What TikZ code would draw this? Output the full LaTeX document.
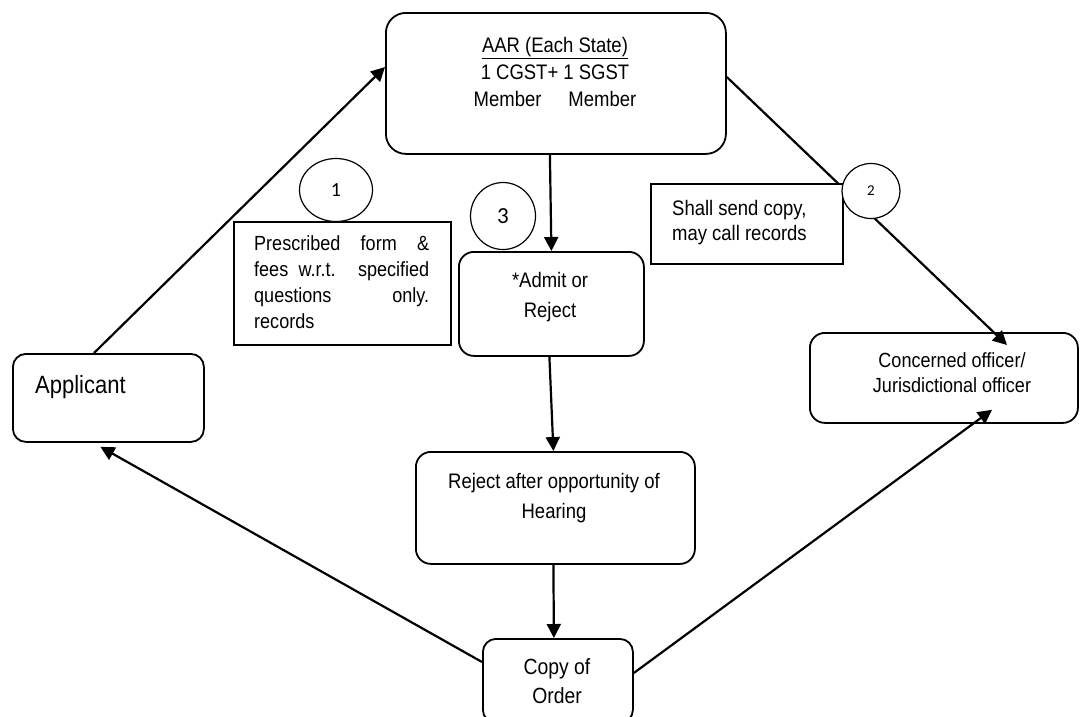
\documentclass[tikz,border=0pt]{standalone}
\usepackage{fontspec}
\setmainfont[FakeStretch=0.88]{Liberation Sans}
\newfontfamily\numfont{Carlito}
\usetikzlibrary{arrows.meta,shapes.geometric,calc}

\begin{document}
\begin{tikzpicture}[x=1pt,y=-1pt,
  box/.style={draw, line width=1.8pt, fill=white, inner sep=0pt, anchor=north west},
  note/.style={draw, line width=1.6pt, fill=white, inner sep=0pt, anchor=north west},
  bubble/.style={draw, ellipse, line width=1.2pt, fill=white, inner sep=0pt},
  link/.style={line width=2.2pt, -{Triangle[length=14pt,width=14pt]}},
  txt/.style={inner sep=0pt, align=center, font=\fontsize{21}{27}\selectfont}
]
\useasboundingbox (0,0) rectangle (1085,716);

% main boxes
\node[box, rounded corners=20pt, minimum width=340pt, minimum height=141pt] (aar) at (385,12) {};
\node[box, rounded corners=13pt, minimum width=191pt, minimum height=88pt] (app) at (12,353) {};
\node[box, rounded corners=15pt, minimum width=185pt, minimum height=104pt] (admit) at (458,251) {};
\node[box, rounded corners=15pt, minimum width=279pt, minimum height=112pt] (rej) at (415,451) {};
\node[box, rounded corners=13pt, minimum width=150pt, minimum height=84pt] (copy) at (482,638) {};
\node[box, rounded corners=15pt, minimum width=268pt, minimum height=90pt] (conc) at (809,332) {};

% box texts (anchored at the baseline of their last line)
\node[txt, anchor=base] (aartext) at (555,106)
  {\underline{AAR (Each State)}\\1 CGST+ 1 SGST\\Member\hspace{27pt}Member};
\node[txt, anchor=base west, font=\fontsize{25}{30}\selectfont] (apptext) at (35,393) {Applicant};
\node[txt, anchor=base, font=\fontsize{21}{30}\selectfont] (admittext) at (550,317) {*Admit or\\Reject};
\node[txt, anchor=base, font=\fontsize{21}{30}\selectfont] (rejtext) at (554,518) {Reject after opportunity of\\Hearing};
\node[txt, anchor=base, font=\fontsize{22}{29}\selectfont] (copytext) at (557,703) {Copy of\\Order};
\node[txt, anchor=base, font=\fontsize{20.5}{25}\selectfont] (conctext) at (952,392) {Concerned officer/\\Jurisdictional officer};

% connectors
\draw[link] ([xshift=82pt]app.north west) -- ([yshift=-55pt]aar.north west);
\draw[link] ([xshift=-6pt]aar.south) -- (admit.north);
\draw[link] ([xshift=-2pt]admit.south) -- ([xshift=-2pt]rej.north);
\draw[link] ([xshift=-2pt]rej.south) -- ([xshift=-4pt]copy.north);
\draw[link] ([yshift=-24pt]copy.north west) -- ([xshift=-8pt,yshift=-4pt]app.south);
\draw[link] ([yshift=-35pt]copy.north east) -- ([xshift=183pt,yshift=14pt]conc.south west);
\draw[link] ([yshift=-65pt]aar.north east) -- ([xshift=198pt,yshift=-13pt]conc.north west);

% notes beside the connectors
\node[note, minimum width=217pt, minimum height=123pt] (pres) at (233,221) {};
\node[txt, anchor=base west, align=left, font=\fontsize{20.5}{26}\selectfont] (prestext) at (254,328)
  {\makebox[175pt][s]{Prescribed form \&}\\\makebox[175pt][s]{fees w.r.t. specified}\\\makebox[175pt][s]{questions only.}\\records};
\node[note, minimum width=192pt, minimum height=80pt] (shall) at (650,183) {};
\node[txt, anchor=base west, align=left, font=\fontsize{21}{25}\selectfont] (shalltext) at (672,240)
  {Shall send copy,\\may call records};

% numbered bubbles
\node[bubble, minimum width=73pt, minimum height=63pt, font=\numfont\fontsize{20}{20}\selectfont] (one) at (336,190) {1};
\node[bubble, minimum width=58pt, minimum height=55pt, font=\numfont\fontsize{15}{15}\selectfont] (two) at (871,191) {2};
\node[bubble, minimum width=65pt, minimum height=67pt, font=\numfont\fontsize{23}{23}\selectfont] (three) at (503,216) {3};
\end{tikzpicture}
\end{document}
